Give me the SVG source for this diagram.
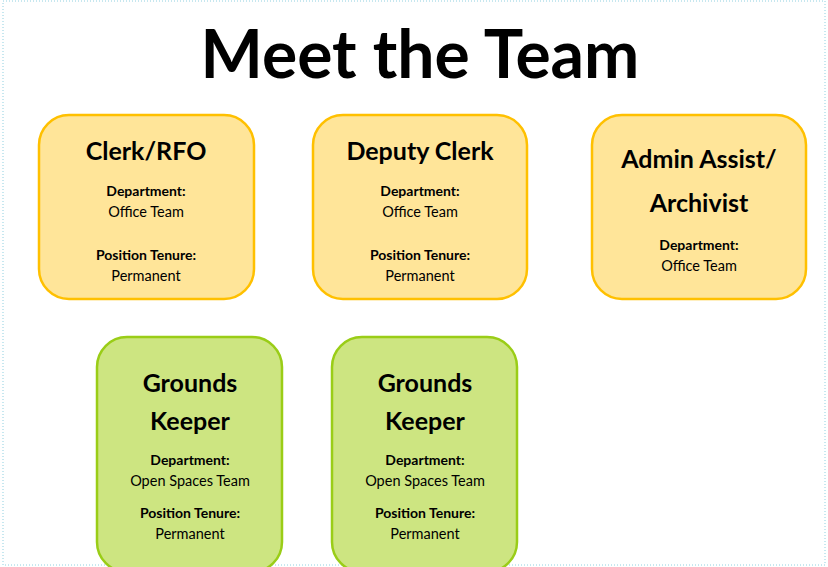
<svg xmlns="http://www.w3.org/2000/svg" width="828" height="567" viewBox="0 0 828 567">
<style>
text{font-family:Lato,"Open Sans",sans-serif;fill:#000;text-anchor:middle}
.y{fill:#ffe599;stroke:#ffc000;stroke-width:2.5}
.g{fill:#cde581;stroke:#9acd17;stroke-width:2.5}
.t{font-size:25px;font-weight:bold}
.b{font-size:14px;font-weight:bold}
.n{font-size:14.5px}
</style>
<rect width="828" height="567" fill="#fff"/>
<rect x="3" y="1" width="822" height="564" fill="none" stroke="#8fd0e0" stroke-width="1" stroke-dasharray="1,2"/>
<text x="420" y="78" style="font-size:66px;font-weight:bold">Meet the Team</text>
<g id="clerk"><rect class="y" x="39" y="115" width="215" height="184" rx="30"/>
<text class="t" x="146" y="160">Clerk/RFO</text><text class="b" x="146" y="196">Department:</text><text class="n" x="146" y="217">Office Team</text><text class="b" x="146" y="260">Position Tenure:</text><text class="n" x="146" y="281">Permanent</text></g>
<g id="deputy"><rect class="y" x="313" y="115" width="214" height="184" rx="30"/>
<text class="t" x="420" y="160">Deputy Clerk</text><text class="b" x="420" y="196">Department:</text><text class="n" x="420" y="217">Office Team</text><text class="b" x="420" y="260">Position Tenure:</text><text class="n" x="420" y="281">Permanent</text></g>
<g id="admin"><rect class="y" x="592" y="115" width="214" height="184" rx="30"/>
<text class="t" x="699" y="168">Admin Assist/</text><text class="t" x="699" y="212">Archivist</text><text class="b" x="699" y="250">Department:</text><text class="n" x="699" y="271">Office Team</text></g>
<g id="grounds1"><rect class="g" x="97" y="337" width="185" height="235" rx="30"/>
<text class="t" x="190" y="392">Grounds</text><text class="t" x="190" y="430">Keeper</text><text class="b" x="190" y="465">Department:</text><text class="n" x="190" y="486">Open Spaces Team</text><text class="b" x="190" y="518">Position Tenure:</text><text class="n" x="190" y="539">Permanent</text></g>
<g id="grounds2"><rect class="g" x="332" y="337" width="185" height="235" rx="30"/>
<text class="t" x="425" y="392">Grounds</text><text class="t" x="425" y="430">Keeper</text><text class="b" x="425" y="465">Department:</text><text class="n" x="425" y="486">Open Spaces Team</text><text class="b" x="425" y="518">Position Tenure:</text><text class="n" x="425" y="539">Permanent</text></g>
<g id="connectors"/>
</svg>
